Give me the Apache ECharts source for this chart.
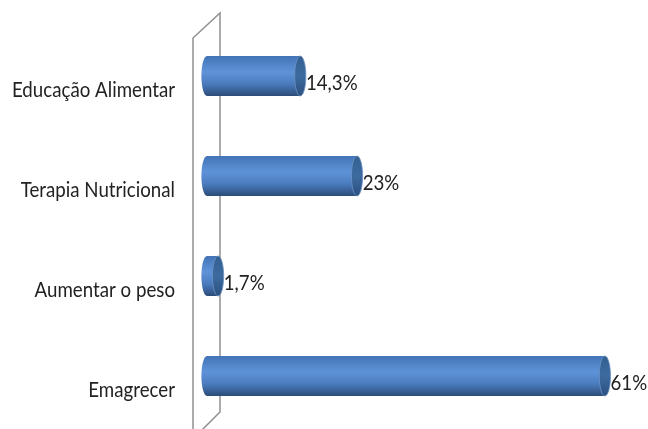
<!DOCTYPE html>
<html><head><meta charset="utf-8">
<script src="https://cdn.jsdelivr.net/npm/echarts@6/dist/echarts.min.js"></script>
<style>html,body{margin:0;padding:0;background:#fff}#c{width:648px;height:429px}</style>
</head><body><div id="c"></div>
<script>
const categories = ["Educação Alimentar", "Terapia Nutricional", "Aumentar o peso", "Emagrecer"];
const values = [14.3, 23, 1.7, 61];
const valueLabels = ["14,3%", "23%", "1,7%", "61%"];

const chart = echarts.init(document.getElementById('c'));
const FONT = 'Lato, "Liberation Sans", sans-serif';
const SX = 0.85;
function renderItem(params, api) {
  const v = api.value(0), i = api.value(1);
  const s = api.coord([0, i]), e = api.coord([v, i]);
  const h = api.size([0, 1])[1] * 0.4;
  const ry = h / 2, rx = h * 0.14;
  const body = new echarts.graphic.LinearGradient(0, 0, 0, 1, [
    {offset: 0, color: '#4274b6'}, {offset: 0.4, color: '#5f93d8'},
    {offset: 0.7, color: '#4a7bbd'}, {offset: 1, color: '#2c4c78'}]);
  const cap = new echarts.graphic.LinearGradient(0, 0, 0, 1, [
    {offset: 0, color: '#33608f'}, {offset: 0.5, color: '#3d6ba0'}, {offset: 1, color: '#2b4f7e'}]);
  return {
    type: 'group',
    children: [
      {type: 'ellipse', shape: {cx: s[0], cy: s[1], rx: rx, ry: ry}, style: {fill: body}},
      {type: 'rect', shape: {x: s[0], y: s[1] - ry, width: e[0] - s[0], height: h}, style: {fill: body}},
      {type: 'ellipse', shape: {cx: e[0], cy: e[1], rx: rx, ry: ry}, style: {fill: cap, stroke: '#6d93c4', lineWidth: 0.8}},
      {type: 'text', x: e[0] + rx, y: e[1] + 7, scaleX: SX, style: {text: valueLabels[i], fill: '#222', font: '22px ' + FONT, textAlign: 'left', textVerticalAlign: 'middle'}},
      {type: 'text', x: s[0] - 32, y: s[1] + 14, scaleX: SX, style: {text: categories[i], fill: '#222', font: '22px ' + FONT, textAlign: 'right', textVerticalAlign: 'middle'}}
    ]
  };
}
chart.setOption({
  animation: false,
  grid: {left: 207, right: 17, top: 26, bottom: 3, containLabel: false, outerBoundsMode: 'none'},
  xAxis: {type: 'value', min: 0, max: 65, show: false},
  yAxis: {type: 'category', data: categories, inverse: true,
    axisLine: {show: false}, axisTick: {show: false}, splitLine: {show: false},
    axisLabel: {show: false}},
  graphic: [{type: 'polyline', z: 0, shape: {points: [[193, 435], [193, 38], [220, 13], [220, 412], [200, 432]]},
    style: {stroke: '#909090', lineWidth: 1.5, fill: null}}],
  series: [{type: 'custom', z: 5, renderItem: renderItem, encode: {x: 0, y: 1},
    data: values.map((v, i) => [v, i])}]
});
</script></body></html>
